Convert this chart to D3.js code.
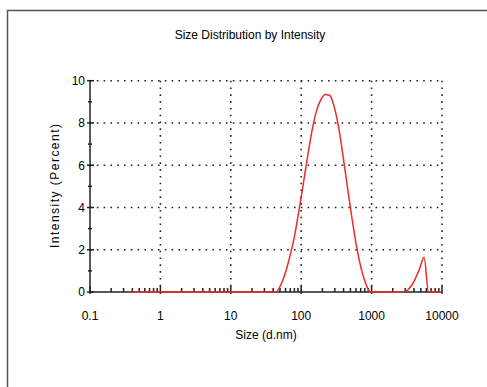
<!DOCTYPE html>
<html>
<head>
<meta charset="utf-8">
<script src="https://cdn.jsdelivr.net/npm/d3@7"></script>
<style>
  html, body { margin: 0; padding: 0; background: #fff; }
  svg { display: block; }
  text { font-family: "Liberation Sans", Arial, sans-serif; fill: #000; }
</style>
</head>
<body>
<svg id="chart" width="487" height="387"></svg>
<script>
// ---- data ----
const sizes = [0.4, 0.4632, 0.5365, 0.6213, 0.7195, 0.8332, 0.9649, 1.117, 1.294, 1.499,
  1.736, 2.01, 2.328, 2.696, 3.122, 3.615, 4.187, 4.849, 5.615, 6.503,
  7.531, 8.721, 10.1, 11.7, 13.54, 15.69, 18.17, 21.04, 24.36, 28.21,
  32.67, 37.84, 43.82, 50.75, 58.77, 68.06, 78.82, 91.28, 105.7, 122.4,
  141.8, 164.2, 190.1, 220.2, 255, 295.3, 342, 396.1, 458.7, 531.2,
  615.1, 712.4, 825, 955.4, 1106, 1281, 1484, 1718, 1990, 2305,
  2669, 3091, 3580, 4145, 4801, 5560, 6439, 7456, 8635, 10000];
const intensity = [0, 0, 0, 0, 0, 0, 0, 0, 0, 0,
  0, 0, 0, 0, 0, 0, 0, 0, 0, 0,
  0, 0, 0, 0, 0, 0, 0, 0, 0, 0,
  0, 0, 0, 0.3, 0.85, 1.6, 2.5, 3.7, 5.0, 6.35,
  7.6, 8.55, 9.1, 9.35, 9.3, 8.75, 7.75, 6.35, 4.85, 3.4,
  2.1, 1.1, 0.4, 0, 0, 0, 0, 0, 0, 0,
  0, 0.05, 0.25, 0.6, 1.1, 1.64, 0, 0, 0, 0];
const xTickValues = [0.1, 1, 10, 100, 1000, 10000];
const xTickLabels = ["0.1", "1", "10", "100", "1000", "10000"];
const yTickValues = [0, 2, 4, 6, 8, 10];
const yMinorValues = [1, 3, 5, 7, 9];
const titleText = "Size Distribution by Intensity";
const xTitle = "Size (d.nm)";
const yTitle = "Intensity (Percent)";

// ---- layout ----
const L = 90, R = 442, T = 80.7, B = 292;
const svg = d3.select("#chart");

const x = d3.scaleLog().domain([0.1, 10000]).range([L, R]);
const y = d3.scaleLinear().domain([0, 10]).range([B, T]);

// frame
svg.append("rect").attr("x", 7.5).attr("y", 10.5).attr("width", 490).attr("height", 400)
  .attr("fill", "none").attr("stroke", "#555").attr("stroke-width", 1.5);

// title
svg.append("text").attr("x", 250).attr("y", 39).attr("text-anchor", "middle")
  .attr("font-size", 12).text(titleText);

// grid (dotted)
const grid = svg.append("g").attr("stroke", "#222").attr("stroke-width", 1.6)
  .attr("stroke-dasharray", "1.6 5.2").attr("fill", "none");
grid.selectAll("line.h").data(yTickValues.filter(d => d > 0)).join("line")
  .attr("x1", L).attr("x2", R).attr("y1", d => y(d)).attr("y2", d => y(d));
grid.selectAll("line.v").data(xTickValues.filter(d => d > 0.1)).join("line")
  .attr("class", "v")
  .attr("y1", T).attr("y2", B).attr("x1", d => x(d)).attr("x2", d => x(d));

// axes lines
const ax = svg.append("g").attr("stroke", "#222").attr("stroke-width", 1.5);
ax.append("line").attr("x1", L).attr("x2", L).attr("y1", T).attr("y2", B);
ax.append("line").attr("x1", L).attr("x2", R).attr("y1", B).attr("y2", B);

// y ticks
ax.selectAll("line.ym").data(yTickValues).join("line").attr("class", "ym")
  .attr("x1", L - 3).attr("x2", L + 4).attr("y1", d => y(d)).attr("y2", d => y(d));
ax.selectAll("line.yn").data(yMinorValues).join("line").attr("class", "yn")
  .attr("x1", L - 2).attr("x2", L + 2).attr("y1", d => y(d)).attr("y2", d => y(d));

// x ticks
const minors = [];
for (let e = -1; e < 4; e++) for (let k = 2; k <= 9; k++) minors.push(k * Math.pow(10, e));
ax.selectAll("line.xn").data(minors).join("line").attr("class", "xn")
  .attr("y1", B).attr("y2", B - 4).attr("x1", d => x(d)).attr("x2", d => x(d));
ax.selectAll("line.xm").data(xTickValues).join("line").attr("class", "xm")
  .attr("y1", B + 2).attr("y2", B - 6).attr("x1", d => x(d)).attr("x2", d => x(d));

// tick labels
svg.selectAll("text.yl").data(yTickValues).join("text").attr("class", "yl")
  .attr("x", 85).attr("y", d => y(d)).attr("dy", "0.36em")
  .attr("text-anchor", "end").attr("font-size", 12).text(d => d);
svg.selectAll("text.xl").data(xTickValues).join("text").attr("class", "xl")
  .attr("x", d => x(d)).attr("y", 320)
  .attr("text-anchor", "middle").attr("font-size", 12).text((d, i) => xTickLabels[i]);

// axis titles
svg.append("text").attr("x", 266).attr("y", 339).attr("text-anchor", "middle")
  .attr("font-size", 12).text(xTitle);
svg.append("text").attr("transform", "translate(59,186) rotate(-90)")
  .attr("text-anchor", "middle").attr("font-size", 12)
  .attr("textLength", 124).attr("lengthAdjust", "spacing").text(yTitle);

// data line
const pts = sizes.map((s, i) => [s, intensity[i]]);
const line = d3.line().x(d => x(d[0])).y(d => y(d[1])).curve(d3.curveMonotoneX);
svg.append("path").datum(pts).attr("d", line)
  .attr("fill", "none").attr("stroke", "#ee2b2b").attr("stroke-width", 1.5);
</script>
</body>
</html>
